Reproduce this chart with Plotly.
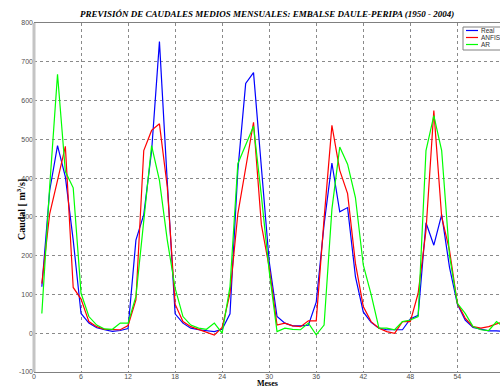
import plotly.graph_objects as go

meses = list(range(1, 61))

real = [120, 368, 484, 403, 240, 51, 26, 14, 9, 5, 7, 12,
        240, 306, 470, 752, 390, 50, 26, 13, 9, 6, 4, 10,
        50, 420, 644, 672, 420, 185, 43, 26, 19, 19, 21, 80,
        280, 439, 313, 324, 146, 55, 28, 13, 9, 9, 9, 37,
        46, 285, 227, 306, 170, 75, 34, 15, 10, 6, 6, 5]

anfis = [128, 308, 394, 482, 118, 88, 30, 17, 10, 10, 9, 20,
         86, 471, 523, 540, 377, 75, 30, 17, 10, 4, -5, 15,
         103, 308, 428, 544, 280, 170, 21, 26, 19, 17, 32, 32,
         295, 536, 420, 360, 180, 69, 30, 13, 4, 0, 30, 30,
         103, 265, 574, 300, 214, 77, 39, 17, 13, 17, 24, 30]

ar = [51, 378, 668, 417, 375, 103, 43, 21, 11, 10, 26, 26,
      95, 290, 484, 394, 240, 116, 43, 21, 13, 10, 26, 0,
      120, 437, 484, 534, 355, 160, 4, 13, 10, 9, 26, -4,
      21, 320, 480, 436, 350, 176, 100, 13, 13, 9, 30, 34,
      43, 471, 561, 471, 200, 77, 51, 17, 9, 7, 30, 15]

series_names = ["Real", "ANFIS", "AR"]
series_colors = ["#0000ff", "#ff0000", "#00ff00"]

x_ticks = [0, 6, 12, 18, 24, 30, 36, 42, 48, 54, 60]
y_ticks = [-100, 0, 100, 200, 300, 400, 500, 600, 700, 800]

fig = go.Figure()
for name, vals, col in zip(series_names, [real, anfis, ar], series_colors):
    fig.add_trace(go.Scatter(x=meses, y=vals, mode="lines", name=name,
                             line=dict(color=col, width=1.2), showlegend=False))

tick_font = dict(family="Liberation Sans, Arial, sans-serif", size=7, color="#505050")
serif_b = "Liberation Serif, Times New Roman, serif"

fig.update_layout(
    width=500, height=388,
    margin=dict(l=34, r=0, t=23, b=16),
    paper_bgcolor="#ffffff", plot_bgcolor="#ffffff",
    xaxis=dict(range=[0, 59.44], tickvals=x_ticks, ticktext=[str(v) for v in x_ticks],
               showgrid=True, gridcolor="#8a8a8a", griddash="dot", gridwidth=1,
               zeroline=False, showline=True, linecolor="#808080", linewidth=1,
               mirror=True, ticks="", tickfont=tick_font, ticklabelstandoff=-2),
    yaxis=dict(range=[-100, 800], tickvals=y_ticks, ticktext=[str(v) for v in y_ticks],
               showgrid=True, gridcolor="#8a8a8a", griddash="dot", gridwidth=1,
               zeroline=False, showline=False, ticks="", tickfont=tick_font),
    showlegend=False,
)

# left axis bar (light gray)
fig.add_shape(type="line", xref="paper", yref="paper", x0=0, x1=0, y0=0, y1=1,
              line=dict(color="#c4c4c4", width=3))

# Title and axis labels
fig.add_annotation(text="<b><i>PREVISIÓN DE CAUDALES MEDIOS MENSUALES: EMBALSE DAULE-PERIPA (1950 - 2004)</i></b>",
                   xref="paper", yref="paper", x=0.5, y=1, yshift=2, showarrow=False,
                   font=dict(family=serif_b, size=9, color="#000000"), yanchor="bottom")
fig.add_annotation(text="<b>Meses</b>", xref="paper", yref="paper", x=0.5, y=0, yshift=-11.5,
                   showarrow=False, yanchor="middle", borderpad=0,
                   font=dict(family=serif_b, size=8, color="#000000"))
fig.add_annotation(text="<b>Caudal [ m<sup>3</sup>/s]</b>", xref="paper", yref="paper",
                   x=0, xshift=-21, y=1 - (210 - 23) / 349, showarrow=False, textangle=-90,
                   font=dict(family=serif_b, size=10, color="#000000"))

# Legend box (manual)
fig.add_shape(type="rect", xref="paper", yref="paper", x0=(463 - 34) / 466, x1=1.02,
              y0=1 - (50 - 23) / 349, y1=1 - (27 - 23) / 349,
              line=dict(color="#808080", width=1), fillcolor="#ffffff")
for i, (name, col) in enumerate(zip(series_names, series_colors)):
    yy = 1 - (30.5 + 7 * i - 23) / 349
    fig.add_shape(type="line", xref="paper", yref="paper",
                  x0=(466 - 34) / 466, x1=(478 - 34) / 466, y0=yy, y1=yy,
                  line=dict(color=col, width=1.2))
    fig.add_annotation(text=name, xref="paper", yref="paper", x=(479 - 34) / 466, y=yy,
                       xanchor="left", yanchor="middle", showarrow=False,
                       font=dict(family="Liberation Sans, Arial, sans-serif", size=6.5, color="#303030"))

fig.write_html("out.html", config={"displayModeBar": False},
               post_script="document.body.style.margin='0';document.body.style.overflow='hidden';")
